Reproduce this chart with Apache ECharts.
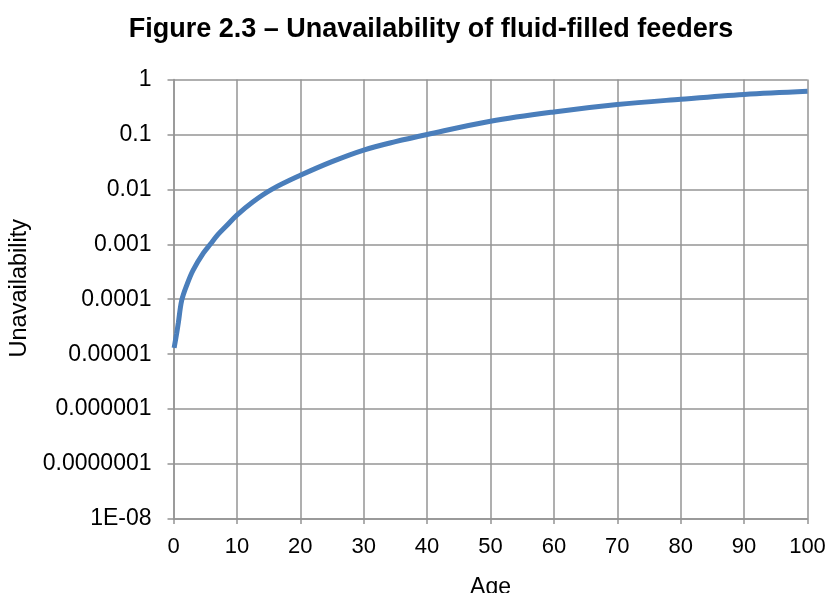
<!DOCTYPE html>
<html>
<head>
<meta charset="utf-8">
<script src="https://cdn.jsdelivr.net/npm/echarts@6/dist/echarts.min.js"></script>
<style>
html,body{margin:0;padding:0;background:#fff;}
#chart{width:828px;height:593px;}
</style>
</head>
<body>
<div id="chart"></div>
<script>
var titleText = 'Figure 2.3 \u2013 Unavailability of fluid-filled feeders';
var xAxisName = 'Age';
var yAxisName = 'Unavailability';
var ages = [0.1, 0.5, 0.76, 1.3, 2.2, 3.1, 4.7, 5.8, 7, 8.4, 10, 12.5, 15.5, 20, 25, 30, 35, 40, 50, 60, 70, 80, 90, 100];
var unavailability = [1.3e-5, 2.4e-5, 3.7e-5, 9.6e-5, 1.95e-4, 3.4e-4, 6.9e-4, 1.0e-3, 1.5e-3, 2.2e-3, 3.4e-3, 5.9e-3, 1.0e-2, 1.8e-2, 3.2e-2, 5.2e-2, 7.4e-2, 0.1, 0.174, 0.257, 0.35, 0.437, 0.533, 0.61];
var yTickLabelList = ['1E-08','0.0000001','0.000001','0.00001','0.0001','0.001','0.01','0.1','1'];

var seriesData = ages.map(function(a, i){ return [a, unavailability[i]]; });

var chart = echarts.init(document.getElementById('chart'), null, {renderer:'canvas'});
var gridColor = '#949494';
var fontFam = '"Liberation Sans", Arial, sans-serif';
chart.setOption({
  animation: false,
  title: {
    text: titleText,
    left: 426, top: 11, textAlign: 'center',
    textStyle: {fontFamily: fontFam, fontWeight: 'bold', fontSize: 27, color: '#000'}
  },
  grid: {left: 173.5, right: 20.5, top: 79.5, bottom: 74, containLabel: false, outerBoundsMode: 'none'},
  xAxis: {
    type: 'value', min: 0, max: 100, interval: 10,
    name: xAxisName, nameLocation: 'middle', nameGap: 57,
    nameTextStyle: {fontFamily: fontFam, fontSize: 23, color: '#000'},
    axisLine: {show: true, lineStyle: {color: gridColor, width: 1.5}},
    axisTick: {show: true, length: 5, lineStyle: {color: gridColor, width: 1.5}},
    axisLabel: {fontFamily: fontFam, fontSize: 22, color: '#000', margin: 17},
    splitLine: {show: true, lineStyle: {color: gridColor, width: 1.5}}
  },
  yAxis: {
    type: 'log', logBase: 10, min: 1e-8, max: 1,
    name: yAxisName, nameLocation: 'middle', nameGap: 137, nameRotate: 90,
    nameTextStyle: {fontFamily: fontFam, fontSize: 23.5, color: '#000', padding: [0, 0, 0, 22]},
    axisLine: {show: true, lineStyle: {color: gridColor, width: 1.5}},
    axisTick: {show: true, length: 6, lineStyle: {color: gridColor, width: 1.5}},
    axisLabel: {
      fontFamily: fontFam, fontSize: 23, color: '#000', margin: 22,
      formatter: function(v){
        var e = Math.round(Math.log10(v));
        return yTickLabelList[e + 8];
      }
    },
    splitLine: {show: true, lineStyle: {color: gridColor, width: 1.5}}
  },
  series: [{
    type: 'line', data: seriesData, smooth: 0.35, showSymbol: false,
    lineStyle: {color: '#4a7ebb', width: 5}, itemStyle: {color: '#4a7ebb'}
  }]
});
</script>
</body>
</html>
